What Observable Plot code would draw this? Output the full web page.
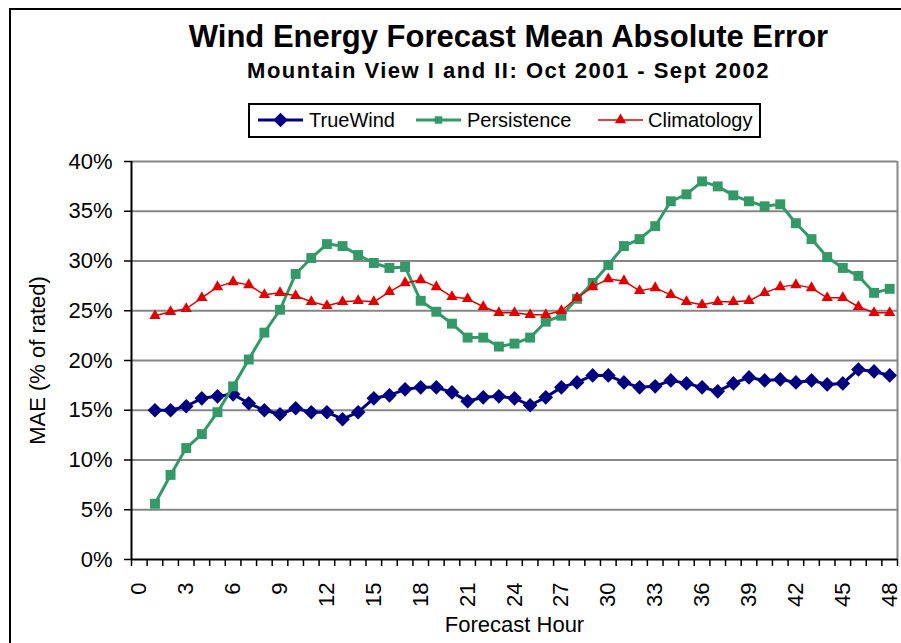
<!DOCTYPE html>
<html>
<head>
<meta charset="utf-8">
<script src="https://cdn.jsdelivr.net/npm/d3@7"></script>
<script src="https://cdn.jsdelivr.net/npm/@observablehq/plot@0.6"></script>
<style>
  html, body { margin: 0; padding: 0; background: #fff; overflow: hidden; }
  #wrap { position: relative; width: 901px; height: 643px; overflow: hidden; font-family: "Liberation Sans", Arial, sans-serif; color: #000; }
  #border { position: absolute; left: 9px; top: 8px; width: 1000px; height: 1000px; border: 2px solid #000; box-sizing: border-box; }
  #title { position: absolute; left: 108px; width: 801px; top: 22px; text-align: center; font-weight: bold; font-size: 31px; line-height: 30px; white-space: nowrap; }
  #subtitle { position: absolute; left: 108px; width: 801px; top: 60px; text-align: center; font-weight: bold; font-size: 22px; line-height: 22px; letter-spacing: 1.5px; white-space: nowrap; }
  #legend { position: absolute; left: 248px; top: 103px; }
  #chart { position: absolute; left: 0; top: 140px; }
</style>
</head>
<body>
<div id="wrap">
  <div id="border"></div>
  <div id="title">Wind Energy Forecast Mean Absolute Error</div>
  <div id="subtitle">Mountain View I and II: Oct 2001 - Sept 2002</div>
  <div id="legend"></div>
  <div id="chart"></div>
</div>
<script>
// ---- data (MAE, % of rated) ----
const hours = [1,2,3,4,5,6,7,8,9,10,11,12,13,14,15,16,17,18,19,20,21,22,23,24,
               25,26,27,28,29,30,31,32,33,34,35,36,37,38,39,40,41,42,43,44,45,46,47,48];
const trueWind = [15.0,15.0,15.4,16.2,16.4,16.6,15.7,15.0,14.6,15.2,14.8,14.8,14.1,14.8,16.2,16.5,
                  17.1,17.3,17.3,16.8,15.9,16.3,16.4,16.2,15.5,16.3,17.3,17.8,18.5,18.5,17.8,17.3,
                  17.4,18.0,17.7,17.3,16.9,17.7,18.3,18.0,18.1,17.8,18.0,17.6,17.7,19.1,18.9,18.5];
const persistence = [5.6,8.5,11.2,12.6,14.8,17.4,20.1,22.8,25.1,28.7,30.3,31.7,31.5,30.6,29.8,29.3,
                     29.4,26.0,24.9,23.7,22.3,22.3,21.4,21.7,22.3,23.9,24.5,26.2,27.8,29.6,31.5,32.2,
                     33.5,36.0,36.7,38.0,37.5,36.6,36.0,35.5,35.7,33.8,32.2,30.4,29.3,28.5,26.8,27.2];
const climatology = [24.5,24.9,25.2,26.3,27.4,27.9,27.6,26.6,26.8,26.5,25.9,25.5,25.9,26.0,25.9,26.9,
                     27.8,28.1,27.4,26.4,26.2,25.4,24.8,24.8,24.6,24.6,25.0,26.3,27.4,28.2,28.0,27.0,
                     27.3,26.6,25.9,25.6,25.9,25.9,26.0,26.8,27.4,27.6,27.3,26.3,26.3,25.4,24.8,24.8];
const seriesNames = ["TrueWind", "Persistence", "Climatology"];
const seriesColors = ["#000080", "#339966", "#e00000"];
const yTicks = [0,5,10,15,20,25,30,35,40];
const xLabelTicks = [0,3,6,9,12,15,18,21,24,27,30,33,36,39,42,45,48];

const rows = s => hours.map((h, i) => ({hour: h, value: s[i]}));
const tw = rows(trueWind), pe = rows(persistence), cl = rows(climatology);
const boundaries = d3.range(-0.5, 49, 1);
const font = '"Liberation Sans", Arial, sans-serif';
const gridColor = "#868686";

const chart = Plot.plot({
  width: 901,
  height: 503,
  marginLeft: 131,
  marginRight: 4,
  marginTop: 21,
  marginBottom: 84,
  style: {fontFamily: font, fontSize: "22px", color: "#000", background: "transparent", overflow: "visible"},
  x: {domain: [-0.5, 48.5]},
  y: {domain: [0, 40]},
  marks: [
    Plot.gridY(yTicks.filter(v => v > 0), {stroke: gridColor, strokeOpacity: 1, strokeWidth: 2}),
    Plot.ruleX([48.5], {stroke: gridColor, strokeWidth: 2}),
    Plot.axisY(yTicks, {tickSize: 7, tickPadding: 12, strokeWidth: 1.5, fontSize: 22,
      tickFormat: d => d + "%", label: "MAE (% of rated)", labelAnchor: "center",
      labelOffset: 102, labelArrow: "none"}),
    Plot.axisX(boundaries, {tickSize: 7, strokeWidth: 1.5, tickFormat: () => "", label: null}),
    Plot.axisX(xLabelTicks, {tickSize: 0, tickPadding: 23, tickRotate: -90, fontSize: 22,
      label: "Forecast Hour", labelAnchor: "center", labelOffset: 72, labelArrow: "none"}),
    Plot.ruleX([-0.5], {stroke: "#000", strokeWidth: 2}),
    Plot.ruleY([0], {stroke: "#000", strokeWidth: 2}),
    Plot.line(tw, {x: "hour", y: "value", stroke: seriesColors[0], strokeWidth: 3}),
    Plot.dot(tw, {x: "hour", y: "value", symbol: "diamond2", r: 6.6, fill: seriesColors[0]}),
    Plot.line(pe, {x: "hour", y: "value", stroke: seriesColors[1], strokeWidth: 3}),
    Plot.dot(pe, {x: "hour", y: "value", symbol: "square", r: 5.6, fill: seriesColors[1]}),
    Plot.line(cl, {x: "hour", y: "value", stroke: seriesColors[2], strokeWidth: 1.5}),
    Plot.dot(cl, {x: "hour", y: "value", symbol: "triangle", r: 4.2, fill: seriesColors[2]})
  ]
});
document.getElementById("chart").appendChild(chart);

// ---- legend ----
const lg = d3.select("#legend").append("svg")
  .attr("width", 514).attr("height", 36)
  .style("font-family", font).style("display", "block");
lg.append("rect").attr("x", 1).attr("y", 1).attr("width", 511).attr("height", 33)
  .attr("fill", "#fff").attr("stroke", "#000").attr("stroke-width", 2);
const items = [
  {x0: 10, x1: 55, tx: 61, sym: d3.symbolDiamond2, size: Math.PI * 6.6 * 6.6, w: 3},
  {x0: 168, x1: 213, tx: 219, sym: d3.symbolSquare, size: Math.PI * 4.2 * 4.2, w: 3},
  {x0: 350, x1: 395, tx: 400, sym: d3.symbolTriangle, size: Math.PI * 4.2 * 4.2, w: 1.5}
];
items.forEach((it, i) => {
  const cy = 17;
  lg.append("line").attr("x1", it.x0).attr("x2", it.x1).attr("y1", cy).attr("y2", cy)
    .attr("stroke", seriesColors[i]).attr("stroke-width", it.w);
  lg.append("path").attr("d", d3.symbol(it.sym, it.size)())
    .attr("transform", `translate(${(it.x0 + it.x1) / 2},${cy})`).attr("fill", seriesColors[i]);
  lg.append("text").attr("x", it.tx).attr("y", 24).attr("font-size", 20).text(seriesNames[i]);
});
</script>
</body>
</html>
